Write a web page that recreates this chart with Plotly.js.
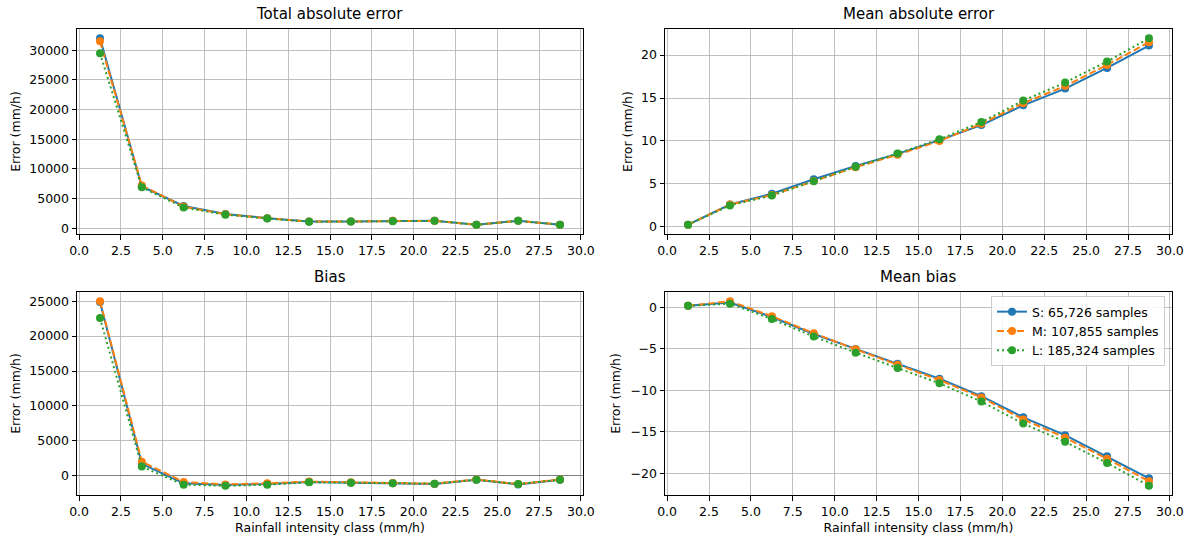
<!DOCTYPE html>
<html>
<head>
<meta charset="utf-8">
<script src="https://cdn.plot.ly/plotly-3.0.1.min.js"></script>
<style>html,body{margin:0;padding:0;background:#fff;}#chart{width:1187px;height:537px;}</style>
</head>
<body>
<div id="chart"></div>
<script>
// ---- Data ----
const classes = [1.25, 3.75, 6.25, 8.75, 11.25, 13.75, 16.25, 18.75, 21.25, 23.75, 26.25, 28.75];
const seriesNames = ["S: 65,726 samples", "M: 107,855 samples", "L: 185,324 samples"];

const totalAbsS = [32000, 7050, 3750, 2400, 1700, 1150, 1150, 1250, 1250, 600, 1250, 600];
const totalAbsM = [31500, 7200, 3650, 2350, 1700, 1150, 1150, 1250, 1250, 600, 1250, 600];
const totalAbsL = [29500, 6900, 3500, 2300, 1650, 1100, 1150, 1200, 1250, 600, 1250, 600];

const maeS = [0.25, 2.6, 3.85, 5.55, 7.1, 8.5, 10.1, 11.85, 14.15, 16.1, 18.5, 21.1];
const maeM = [0.25, 2.6, 3.7, 5.35, 6.95, 8.4, 10.0, 12.0, 14.4, 16.4, 18.85, 21.5];
const maeL = [0.25, 2.5, 3.65, 5.3, 7.0, 8.55, 10.2, 12.2, 14.7, 16.8, 19.25, 21.95];

const biasS = [24900, 1700, -1100, -1350, -1200, -900, -1000, -1100, -1200, -600, -1250, -600];
const biasM = [25000, 2000, -900, -1250, -1100, -850, -950, -1050, -1150, -550, -1200, -550];
const biasL = [22600, 1300, -1300, -1450, -1300, -950, -1000, -1100, -1150, -600, -1200, -600];

const meanBiasS = [0.2, 0.6, -1.15, -3.2, -5.0, -6.8, -8.6, -10.7, -13.25, -15.4, -17.95, -20.6];
const meanBiasM = [0.2, 0.75, -1.05, -3.1, -5.05, -6.9, -8.75, -10.85, -13.5, -15.7, -18.25, -20.95];
const meanBiasL = [0.2, 0.45, -1.4, -3.5, -5.45, -7.3, -9.15, -11.35, -14.0, -16.2, -18.75, -21.5];

const panelTitles = ["Total absolute error", "Mean absolute error", "Bias", "Mean bias"];
const yTitle = "Error (mm/h)";
const xTitle = "Rainfall intensity class (mm/h)";

// ---- Styles ----
const colors = ["#1f77b4", "#ff7f0e", "#2ca02c"];
const dashes = ["solid", "7px,3px", "2px,3px"];
const FONT = "DejaVu Sans, sans-serif";

function pad(arrs) {
  const all = [].concat(...arrs);
  const mn = Math.min(...all), mx = Math.max(...all);
  const m = (mx - mn) * 0.05;
  return [mn - m, mx + m];
}

const panels = [
  {data: [totalAbsS, totalAbsM, totalAbsL], xa: "x", ya: "y", dtick: 5000},
  {data: [maeS, maeM, maeL], xa: "x2", ya: "y2", dtick: 5},
  {data: [biasS, biasM, biasL], xa: "x3", ya: "y3", dtick: 5000},
  {data: [meanBiasS, meanBiasM, meanBiasL], xa: "x4", ya: "y4", dtick: 5}
];

const traces = [];
panels.forEach((p, pi) => {
  p.data.forEach((vals, si) => {
    traces.push({
      x: classes, y: vals, xaxis: p.xa, yaxis: p.ya,
      type: "scatter", mode: "lines+markers",
      name: seriesNames[si],
      showlegend: pi === 3,
      line: {color: colors[si], width: 2, dash: dashes[si]},
      marker: {color: colors[si], size: 8},
      hoverinfo: "skip"
    });
  });
});

const xr = pad([classes]);
const xDom = [[0, 0.4621], [0.537, 1]];
const yDom = [[0.560, 1], [0, 0.4356]];

function xaxis(dom, anchor, showTitle) {
  const a = {
    domain: dom, anchor: anchor, range: xr, tick0: 0, dtick: 2.5, tickformat: ".1f",
    showgrid: true, gridcolor: "#b0b0b0", gridwidth: 0.8, zeroline: false,
    showline: true, linecolor: "#000", linewidth: 1, mirror: true,
    ticks: "outside", ticklen: 4.5, tickwidth: 1, tickcolor: "#000",
    tickfont: {family: FONT, size: 12.5, color: "#000"}, automargin: false
  };
  if (showTitle) a.title = {text: xTitle, font: {family: FONT, size: 12.5, color: "#000"}, standoff: 5};
  return a;
}
function yaxis(dom, anchor, p, standoff, zero) {
  return {
    domain: dom, anchor: anchor, range: pad(p.data), tick0: 0, dtick: p.dtick, tickformat: "d",
    showgrid: true, gridcolor: "#b0b0b0", gridwidth: 0.8,
    zeroline: !!zero, zerolinecolor: "#808080", zerolinewidth: 1.6,
    showline: true, linecolor: "#000", linewidth: 1, mirror: true,
    ticks: "outside", ticklen: 4.5, tickwidth: 1, tickcolor: "#000",
    tickfont: {family: FONT, size: 12.5, color: "#000"}, automargin: false,
    title: {text: yTitle, font: {family: FONT, size: 12.5, color: "#000"}, standoff: standoff}
  };
}

const layout = {
  width: 1187, height: 537,
  margin: {l: 77, r: 15, t: 29, b: 42},
  paper_bgcolor: "#fff", plot_bgcolor: "#fff",
  font: {family: FONT, size: 12.5, color: "#000"},
  showlegend: true,
  legend: {
    x: 0.9936, xanchor: "right", y: 0.427, yanchor: "top",
    bgcolor: "rgba(255,255,255,0.85)", bordercolor: "#cccccc", borderwidth: 1,
    font: {family: FONT, size: 12.5, color: "#000"}
  },
  xaxis: xaxis(xDom[0], "y", false),
  xaxis2: xaxis(xDom[1], "y2", false),
  xaxis3: xaxis(xDom[0], "y3", true),
  xaxis4: xaxis(xDom[1], "y4", true),
  yaxis: yaxis(yDom[0], "x", panels[0], 5.5),
  yaxis2: yaxis(yDom[0], "x2", panels[1], 5),
  yaxis3: yaxis(yDom[1], "x3", panels[2], 5.5, true),
  yaxis4: yaxis(yDom[1], "x4", panels[3], 7),
  annotations: panelTitles.map((t, i) => ({
    text: t, xref: "paper", yref: "paper",
    x: (xDom[i % 2][0] + xDom[i % 2][1]) / 2,
    y: yDom[Math.floor(i / 2)][1],
    xanchor: "center", yanchor: "bottom", yshift: 4, showarrow: false,
    font: {family: FONT, size: 15, color: "#000"}
  }))
};

Plotly.newPlot("chart", traces, layout, {displayModeBar: false, staticPlot: true});
</script>
</body>
</html>
